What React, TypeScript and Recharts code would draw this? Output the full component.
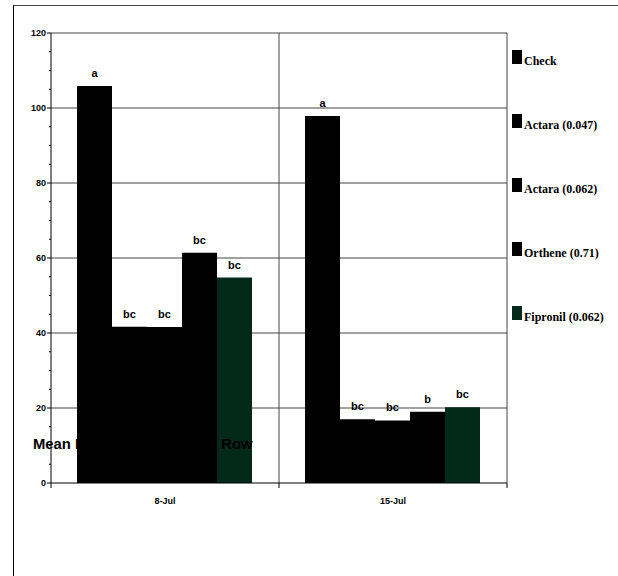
import React from 'react';
import { BarChart, Bar, XAxis, YAxis, CartesianGrid, LabelList } from 'recharts';

// sampling dates and treatments (rate in parentheses)
const dates = ['8-Jul', '15-Jul'];
const treatments = ['Check', 'Actara (0.047)', 'Actara (0.062)', 'Orthene (0.71)', 'Fipronil (0.062)'];
const barColors = ['#000000', '#000000', '#000000', '#000000', '#03291a'];

// mean counts per treatment, one value per date
const checkValues = [105.9, 97.9];
const actara047Values = [41.7, 17.0];
const actara062Values = [41.6, 16.7];
const ortheneValues = [61.4, 19.0];
const fipronilValues = [54.8, 20.2];

// mean separation letters, one per date
const checkLetters = ['a', 'a'];
const actara047Letters = ['bc', 'bc'];
const actara062Letters = ['bc', 'bc'];
const ortheneLetters = ['bc', 'b'];
const fipronilLetters = ['bc', 'bc'];

const yMajorTicks = [0, 20, 40, 60, 80, 100, 120];
const yMinorStep = 5;
const yTicks = Array.from({ length: 120 / yMinorStep + 1 }, (_, i) => i * yMinorStep);

const seriesValues = [checkValues, actara047Values, actara062Values, ortheneValues, fipronilValues];
const seriesLetters = [checkLetters, actara047Letters, actara062Letters, ortheneLetters, fipronilLetters];

const data = dates.map((date, d) => {
  const row: Record<string, string | number> = { date };
  seriesValues.forEach((vals, s) => {
    row[`s${s}`] = vals[d];
    row[`l${s}`] = seriesLetters[s][d];
  });
  return row;
});

const SANS = 'Arial, "Liberation Sans", sans-serif';
const SERIF = '"Times New Roman", "Liberation Serif", serif';

const YTick = (props: any) => {
  const { x, y, payload } = props;
  const major = yMajorTicks.includes(payload.value);
  return (
    <g>
      <line x1={x - (major ? 4 : 2)} x2={x} y1={y} y2={y} stroke="#000" />
      {major && (
        <text x={x - 5} y={y + 3} textAnchor="end" fontFamily={SANS} fontWeight="bold" fontSize={9} fill="#000">
          {payload.value}
        </text>
      )}
    </g>
  );
};

const XTick = (props: any) => {
  const { x, y, payload, index, width, visibleTicksCount } = props;
  const half = width / (2 * visibleTicksCount);
  return (
    <g>
      {index === 0 && <line x1={x - half} x2={x - half} y1={y} y2={y + 5} stroke="#000" />}
      <line x1={x + half} x2={x + half} y1={y} y2={y + 5} stroke="#000" />
      <text x={x} y={y + 21} textAnchor="middle" fontFamily={SANS} fontWeight="bold" fontSize={9} fill="#000">
        {payload.value}
      </text>
    </g>
  );
};

const App: React.FC = () => {
  return (
    <div style={{ position: 'fixed', left: 0, top: 0, width: 618, height: 576, overflow: 'hidden', background: '#fff' }}>
      {/* outer frame */}
      <div style={{ position: 'absolute', left: 13, top: 5, width: 640, height: 620, borderLeft: '1px solid #000', borderTop: '1px solid #444' }} />
      <div style={{ position: 'absolute', left: 0, top: 0 }}>
        <BarChart
          width={618}
          height={576}
          data={data}
          margin={{ top: 33, right: 111, bottom: 63, left: 11 }}
          barCategoryGap={26}
          barGap={0}
        >
          <CartesianGrid
            stroke="#444"
            horizontalValues={yMajorTicks.slice(1)}
            verticalCoordinatesGenerator={({ offset }: any) => [offset.left + offset.width / 2, offset.left + offset.width]}
          />
          <XAxis
            dataKey="date"
            height={30}
            tickSize={0}
            tickMargin={0}
            tickLine={false}
            axisLine={{ stroke: '#000' }}
            tick={<XTick />}
            interval={0}
          />
          <YAxis
            width={40}
            domain={[0, 120]}
            ticks={yTicks}
            interval={0}
            tickSize={0}
            tickMargin={0}
            tickLine={false}
            axisLine={{ stroke: '#000' }}
            tick={<YTick />}
          />
          {treatments.map((name, s) => (
            <Bar key={name} dataKey={`s${s}`} name={name} fill={barColors[s]} isAnimationActive={false}>
              <LabelList
                dataKey={`l${s}`}
                position="top"
                offset={9}
                style={{ fontFamily: SANS, fontWeight: 'bold', fontSize: 11, fill: '#000' }}
              />
            </Bar>
          ))}
        </BarChart>
      </div>
      <svg width={618} height={576} style={{ position: 'absolute', left: 0, top: 0, pointerEvents: 'none' }}>
        <text x={33} y={449} fontFamily={SANS} fontWeight="bold" fontSize={14.8} fill="#000">
          Mean Number of Bugs per Row
        </text>
        {treatments.map((name, s) => (
          <g key={name}>
            <rect x={512} y={50 + 64 * s} width={10} height={14} fill={barColors[s]} />
            <text x={524} y={65 + 64 * s} fontFamily={SERIF} fontWeight="bold" fontSize={12} fill="#000">
              {name}
            </text>
          </g>
        ))}
      </svg>
    </div>
  );
};

export default App;
